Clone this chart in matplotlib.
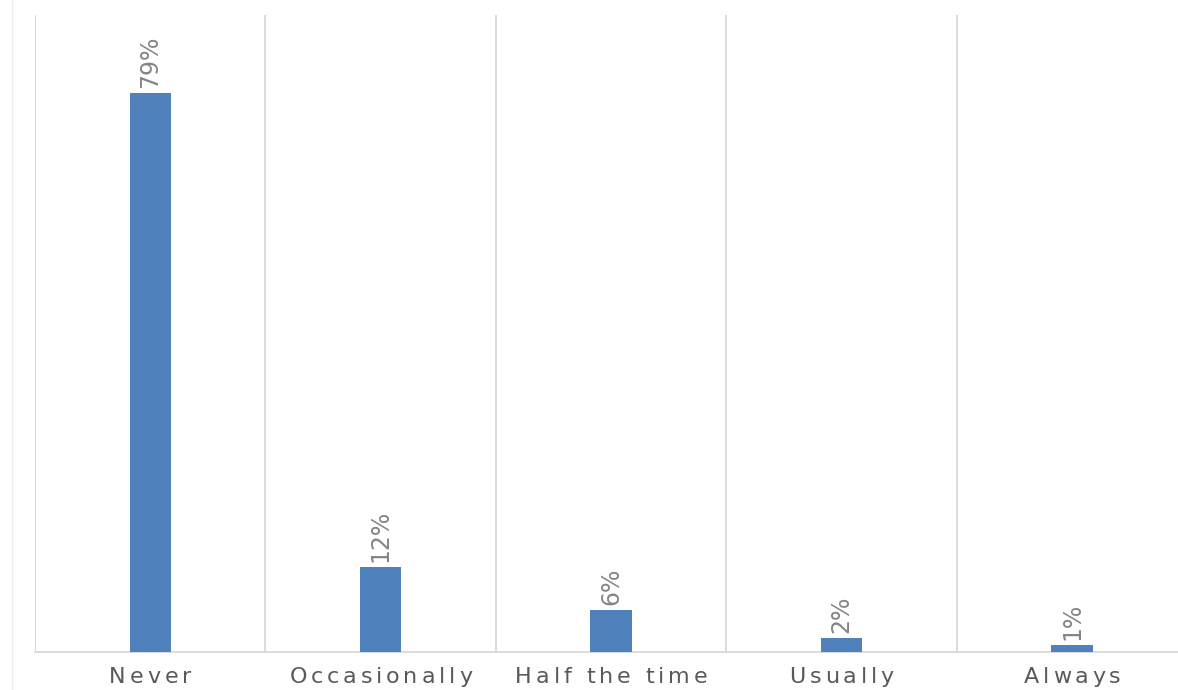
import matplotlib
matplotlib.use("Agg")
import matplotlib.pyplot as plt
import matplotlib.transforms as mtransforms
from matplotlib.font_manager import FontProperties, findfont, get_font
from matplotlib.lines import Line2D
import numpy as np

categories = ["Never", "Occasionally", "Half the time", "Usually", "Always"]
percent = [79, 12, 6, 2, 1]

BAR_COLOR = "#4f81bd"
GRID_COLOR = "#d9d9d9"


def spaced_label(ax, xpos, s, size, gap, color, dy):
    # draw a category label with extra letter spacing, one glyph at a time
    fp = FontProperties(family="DejaVu Sans", size=size)
    font = get_font(findfont(fp))
    font.set_size(size, 72)
    adv = []
    for c in s:
        g = font.load_char(ord(c))
        adv.append(g.linearHoriAdvance / 65536)
    total = sum(adv) + gap * (len(s) - 1)
    base = ax.get_xaxis_transform()
    cursor = -total / 2
    for c, w in zip(s, adv):
        tr = mtransforms.offset_copy(base, fig=ax.figure, x=cursor, y=dy, units="points")
        ax.text(xpos, 0, c, transform=tr, fontproperties=fp, color=color,
                ha="left", va="baseline", clip_on=False)
        cursor += w + gap


fig = plt.figure(figsize=(11.78, 6.90), dpi=100)
ax = fig.add_axes([35 / 1178, 38 / 690, 1143 / 1178, 637 / 690])

x = np.arange(len(categories))
ax.bar(x, percent, width=0.18, color=BAR_COLOR, zorder=3)

# separators between categories
ax.vlines(x - 0.5, 0, 1, transform=ax.get_xaxis_transform(), colors=GRID_COLOR, lw=1.3, zorder=1)

ax.set_xlim(-0.5, 4.459)
ax.set_ylim(0, 90)

for s in ["top", "right", "left"]:
    ax.spines[s].set_visible(False)
ax.spines["bottom"].set_color(GRID_COLOR)
ax.spines["bottom"].set_linewidth(1.3)
ax.set_xticks([])
ax.set_yticks([])

for xi, v in zip(x, percent):
    ax.annotate(f"{v}%", (xi, v), xytext=(0, 3.5), textcoords="offset points",
                rotation=90, ha="center", va="bottom", fontsize=17, color="#858585")

for xi, name in zip(x, categories):
    spaced_label(ax, xi, name, size=16, gap=2.8, color="#595959", dy=-22.5)

# faint outer border on the left
fig.add_artist(Line2D([12 / 1178, 12 / 1178], [0, 1], color="#efefef", lw=1))

fig.savefig("out.png", dpi=100)
